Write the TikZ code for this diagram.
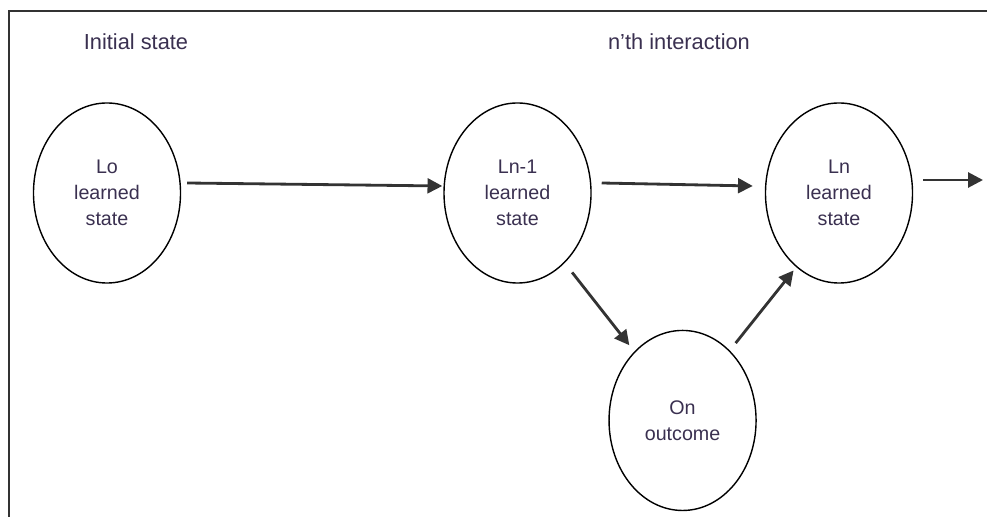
\documentclass[tikz,border=0pt]{standalone}
\usepackage{fontspec}
\setmainfont{Liberation Sans}
\usepackage{tikz}
\usetikzlibrary{arrows.meta,positioning,shapes.geometric,calc}
\usepackage{xcolor}
\definecolor{inkgray}{RGB}{51,51,51}
\definecolor{labeltext}{RGB}{58,48,80}

\begin{document}
\begin{tikzpicture}[x=0.025cm,y=-0.025cm,>={Triangle[length=10.5pt,width=10.5pt]}]
\tikzstyle{st}=[draw=black,line width=1pt,ellipse,inner sep=0pt,minimum width=3.675cm,minimum height=4.5cm,align=center,text=labeltext,font=\fontsize{14}{18.5}\selectfont]
\tikzstyle{hd}=[anchor=base,text=labeltext,font=\fontsize{15.5}{18}\selectfont]
\tikzstyle{ar}=[->,draw=inkgray,line width=2pt]
\useasboundingbox (0,0) rectangle (987,517);
% frame, cut off at the right and bottom
\draw[inkgray,line width=1.4pt] (9,517)--(9,11)--(987,11);
\node[hd] (init) at (136,50) {Initial state};
\node[hd] (nth) at (679,50) {n'th interaction};
\node[st] (lo) at (107,193) {Lo\\learned\\state};
\node[st,right=6.55cm of lo] (lprev) {Ln-1\\learned\\state};
\node[st,right=4.325cm of lprev] (ln) {Ln\\learned\\state};
\node[st,below=1.15cm of lprev,xshift=4.125cm] (on) {On\\outcome};
\coordinate (exit) at (983,180);
\draw[ar] ($(lo.east)+(6,-10)$)--($(lprev.west)+(-1,-7)$);
\draw[ar] ($(lprev.east)+(10,-10)$)--($(ln.west)+(-12,-7)$);
\draw[ar] ($(ln.east)+(10,-13)$)--(exit);
\draw[ar,shorten <=8.5pt,shorten >=5.7pt] (lprev.-56)--(on.125);
\draw[ar,shorten <=6.7pt,shorten >=3pt] (on.56)--(ln.-120);
\end{tikzpicture}
\end{document}
